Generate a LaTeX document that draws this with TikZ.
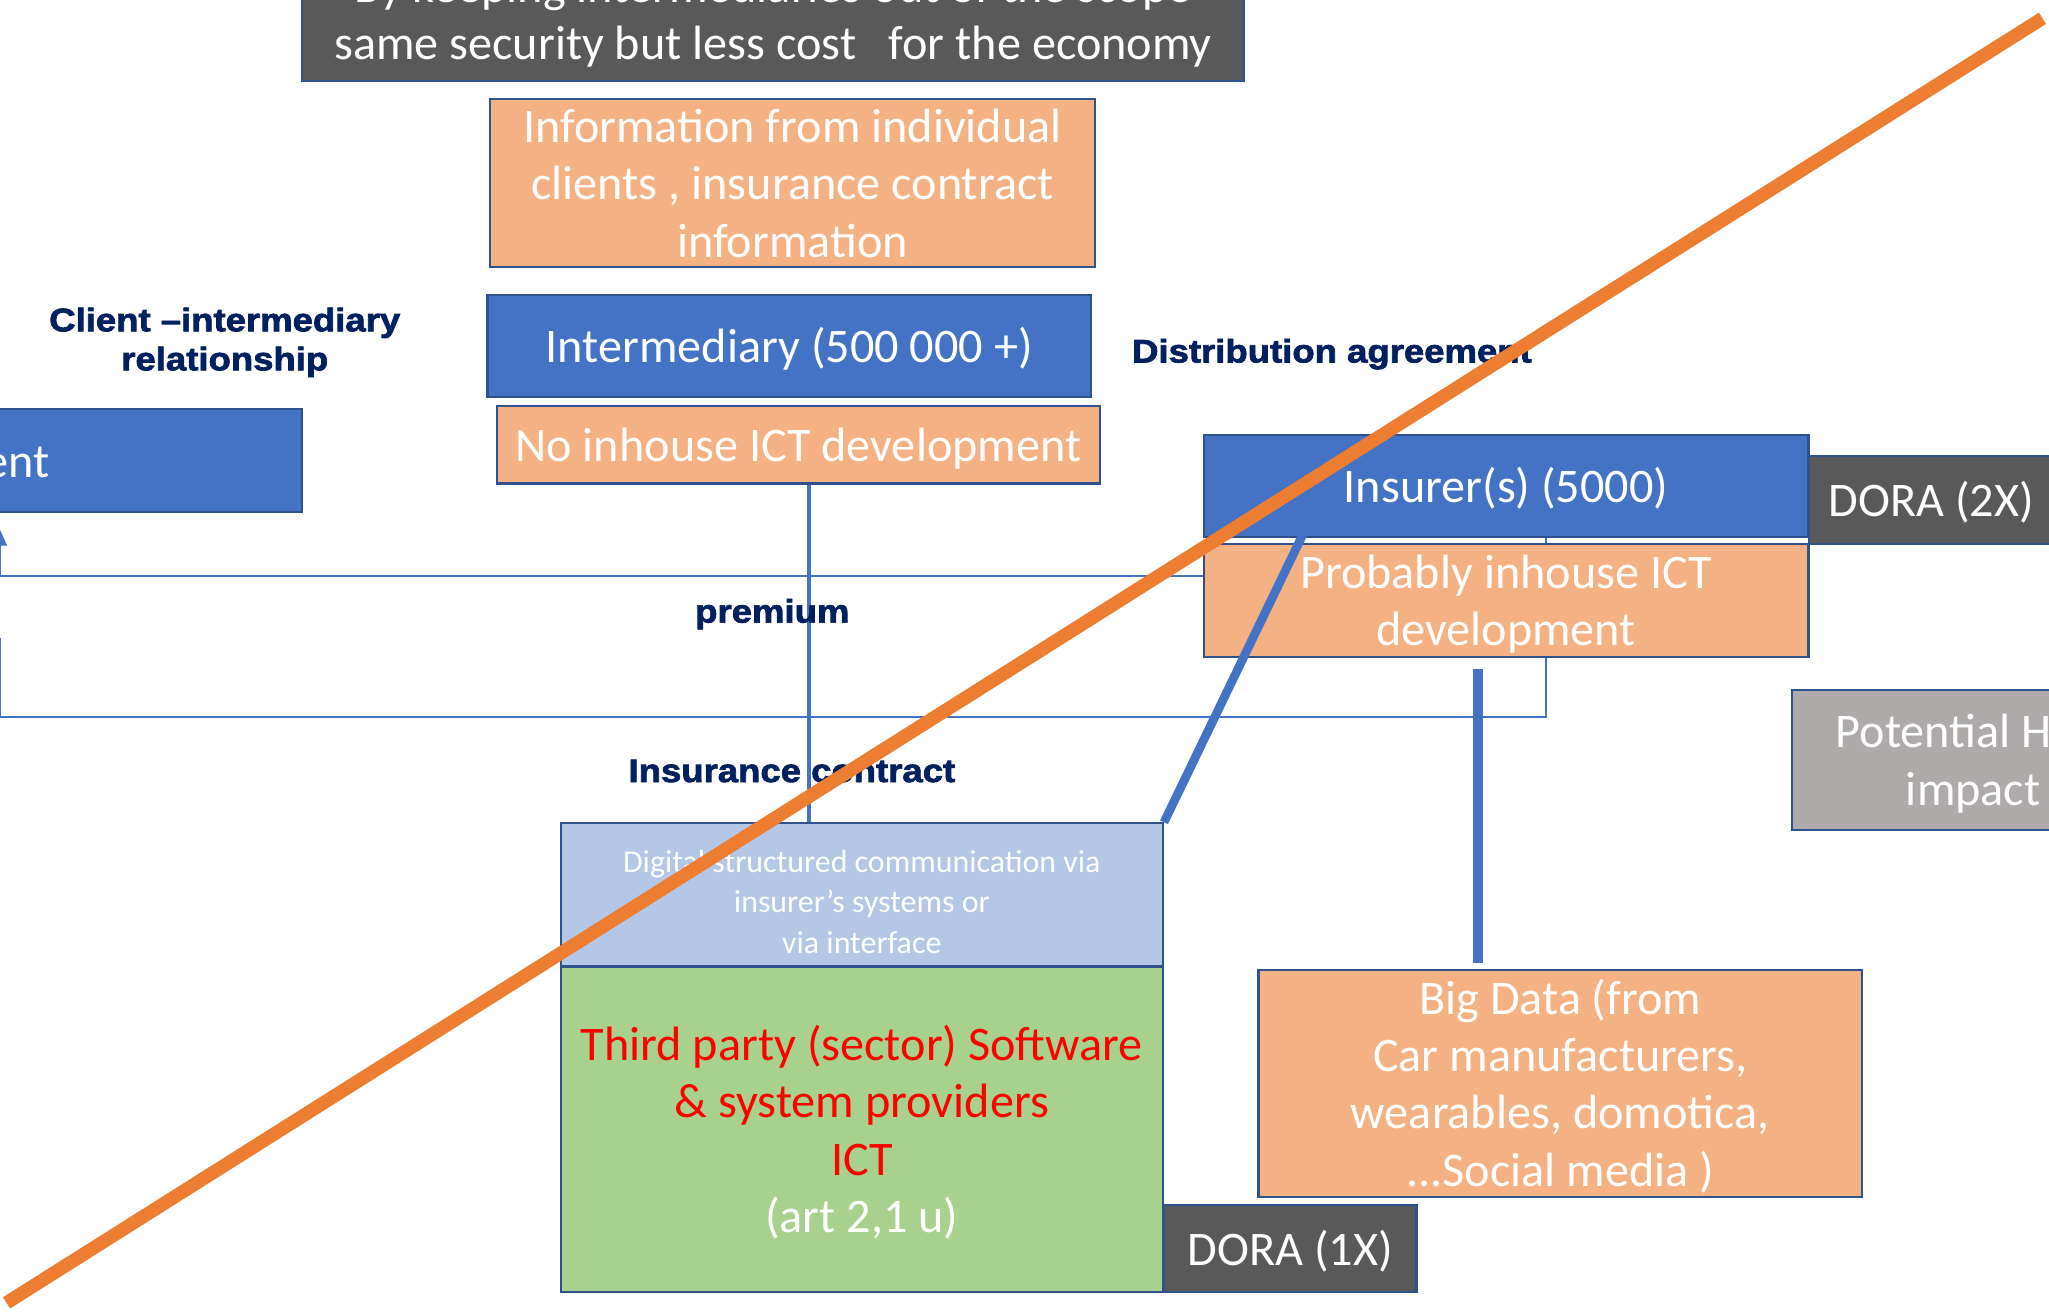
\documentclass[tikz,border=0pt]{standalone}
\usepackage{fontspec}
\setmainfont{Carlito}
\newfontfamily\lblfont{Liberation Sans}[FakeStretch=1.12, BoldFeatures={FakeBold=2.2}]
\usetikzlibrary{arrows.meta,backgrounds}

\definecolor{boxblue}{HTML}{4472C4}
\definecolor{boxorange}{HTML}{F4B183}
\definecolor{boxdark}{HTML}{595959}
\definecolor{boxgray}{HTML}{AEAAAA}
\definecolor{boxlight}{HTML}{B4C7E7}
\definecolor{boxgreen}{HTML}{A9D18E}
\definecolor{edgeblue}{HTML}{2F528F}
\definecolor{navy}{HTML}{002060}
\definecolor{strike}{HTML}{ED7D31}

\newcommand{\mainsize}{\fontsize{21}{25}\selectfont}
\newcommand{\smallsize}{\fontsize{13.9}{17.6}\selectfont}
\newcommand{\lblsize}{\fontsize{14.2}{17}\selectfont}
% strut opening the first line of a box text
\newcommand{\topline}[1][0.85em]{\vrule width 0pt height #1 depth 0pt}

\begin{document}
\begin{tikzpicture}[x=0.02cm, y=-0.02cm,
  box/.style={draw=edgeblue, line width=0.9pt, text=white, align=center, inner sep=0pt, font=\mainsize,
    execute at begin node={\topline},
    execute at end node={\vrule width 0pt height 0pt depth 0.15em}},
  lbl/.style={text=navy, align=center, inner sep=0pt, font=\lblfont\bfseries\lblsize},
  thinlink/.style={draw=boxblue, line width=0.9pt},
  thicklink/.style={draw=boxblue, line width=4.2pt}]
  \useasboundingbox (0,0) rectangle (1568,1004);
  \clip (0,0) rectangle (1568,1004);

  % boxes
  \node[box, fill=boxdark, minimum width=14.42cm, minimum height=2.04cm] (scope) at (591.5,11)
    {\topline By keeping intermediaries out of the scope\\same security but less cost\ \ \ for the economy};
  \node[box, fill=boxorange, minimum width=9.26cm, minimum height=2.56cm] (info) at (606.5,140)
    {\topline Information from individual\\clients , insurance contract\\information};
  \node[box, fill=boxblue, minimum width=9.24cm, minimum height=1.56cm] (interm) at (604,265)
    {Intermediary (500 000 +)};
  \node[box, fill=boxorange, minimum width=9.24cm, minimum height=1.18cm] (noict) at (611,340.5)
    {No inhouse ICT development};
  \node[box, fill=boxblue, minimum width=9.44cm, minimum height=1.58cm] (client) at (-5,352.5)
    {Client};
  \node[box, fill=boxblue, minimum width=9.26cm, minimum height=1.56cm] (insurer) at (1152.5,372)
    {Insurer(s) (5000)};
  \node[box, fill=boxorange, minimum width=9.26cm, minimum height=1.74cm] (inhouse) at (1152.5,459.5)
    {\topline Probably inhouse ICT\\development};
  \node[box, fill=boxdark, minimum width=3.76cm, minimum height=1.34cm] (dora2) at (1478,382.5)
    {DORA (2X)};
  \node[box, fill=boxgray, minimum width=5.56cm, minimum height=2.14cm] (potential) at (1510,581.5)
    {\topline Potential High\\impact};
  \node[box, fill=boxlight, minimum width=9.22cm, minimum height=2.18cm, font=\smallsize] (digital) at (659.5,684.5)
    {\topline[1.29em]Digital structured communication via\\insurer’s systems or\\via interface};
  \node[box, fill=boxgreen, minimum width=9.22cm, minimum height=4.98cm] (vendor) at (659.5,864.5)
    {\topline\textcolor{red}{Third party (sector) Software}\\\textcolor{red}{\& system providers}\\\textcolor{red}{ICT}\\(art 2,1 u)};
  \node[box, fill=boxorange, minimum width=9.24cm, minimum height=3.48cm] (bigdata) at (1194,829)
    {\topline Big Data (from\\Car manufacturers,\\wearables, domotica,\\...Social media )};
  \node[box, fill=boxdark, minimum width=3.86cm, minimum height=1.34cm] (dora1) at (987.5,955.5)
    {DORA (1X)};

  % relation labels
  \node[lbl] (clientrel) at (172,262) {Client –intermediary\\relationship};
  \node[lbl, anchor=west] (distrib) at (866,271) {Distribution agreement};
  \node[lbl] (premium) at (591,470) {premium};
  \node[lbl] (contract) at (606,590) {Insurance contract};

  % thin connectors behind the boxes
  \begin{pgfonlayer}{background}
    \coordinate (ret) at (0,441);
    \coordinate (loop) at (1183,549);
    \coordinate (leftend) at (0,488);
    \coordinate (nolink) at (619,370);
    \draw[thinlink, -{Triangle[length=7pt,width=6pt]}] (inhouse.west |- ret) -- (ret)
      -- ([yshift=-0.25cm]client.south -| ret);
    \draw[thinlink] (insurer.south -| loop) -- (loop) -- (loop -| ret) -- (leftend);
    \draw[thinlink, line width=1.4pt] (nolink) -- (nolink |- digital.north);
  \end{pgfonlayer}

  % thick links
  \coordinate (insfoot) at (997,409);
  \coordinate (bdtop) at (1131,512);
  \draw[thicklink, line width=3.8pt] (insfoot) -- (digital.north east);
  \draw[thicklink] (bdtop) -- ([yshift=0.08cm]bigdata.north -| bdtop);

  % strike-through
  \coordinate (sa) at (5,997);
  \coordinate (sb) at (1563,14);
  \draw[strike, line width=5.8pt] (sa) -- (sb);
\end{tikzpicture}
\end{document}
